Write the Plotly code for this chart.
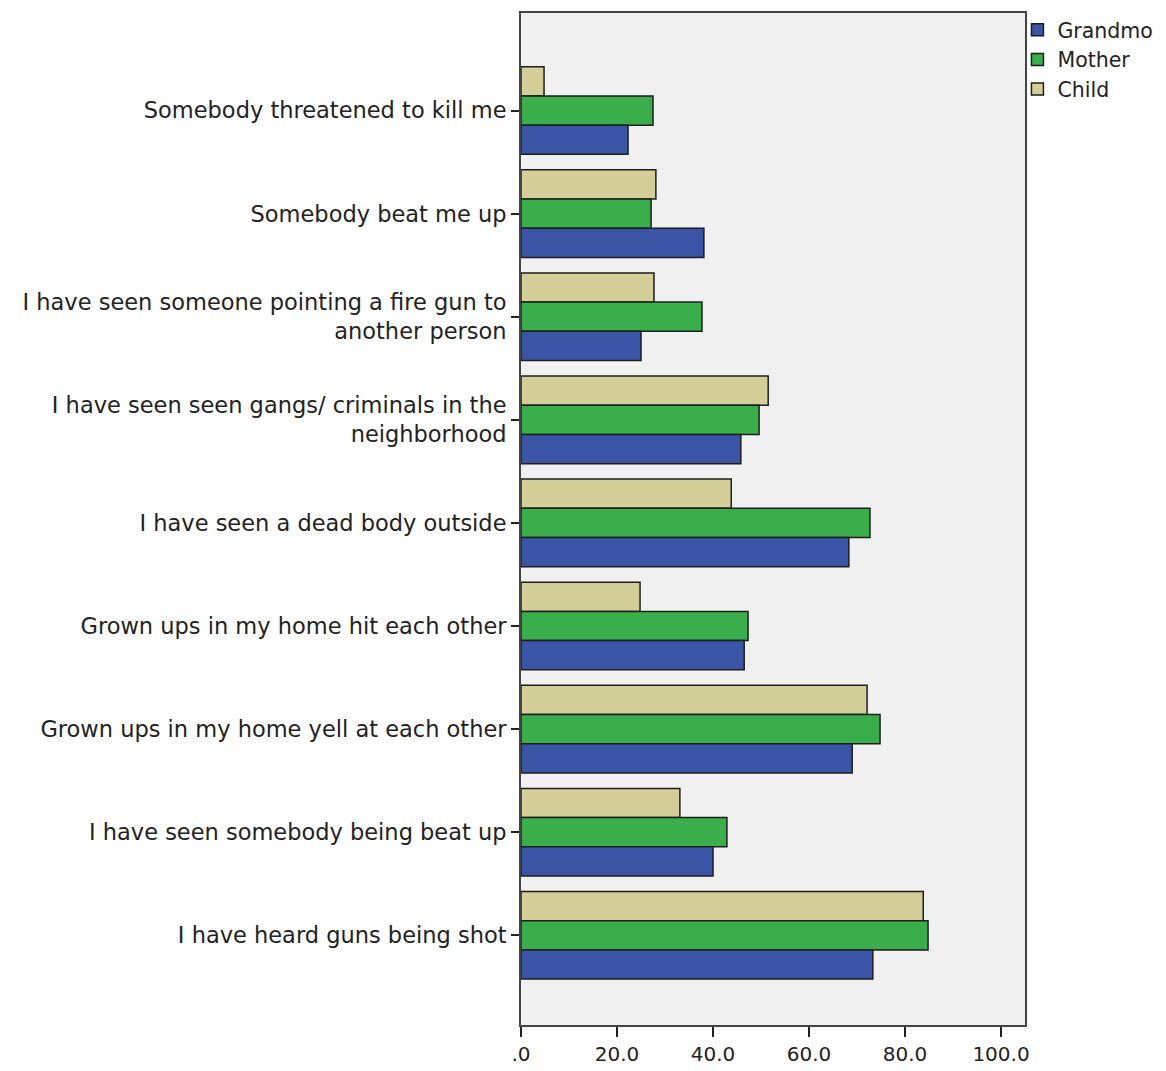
import plotly.graph_objects as go

categories = [
    "Somebody threatened to kill me",
    "Somebody beat me up",
    "I have seen someone pointing a fire gun to<br>another person",
    "I have seen seen gangs/ criminals in the<br>neighborhood",
    "I have seen a dead body outside",
    "Grown ups in my home hit each other",
    "Grown ups in my home yell at each other",
    "I have seen somebody being beat up",
    "I have heard guns being shot",
]
grandmother = [22.3, 38.1, 25.0, 45.8, 68.3, 46.5, 69.0, 40.0, 73.3]
mother = [27.5, 27.1, 37.7, 49.6, 72.7, 47.3, 74.8, 42.9, 84.8]
child = [4.8, 28.1, 27.7, 51.5, 43.8, 24.8, 72.1, 33.1, 83.8]
tick_vals = [0, 20, 40, 60, 80, 100]
tick_text = [".0", "20.0", "40.0", "60.0", "80.0", "100.0"]

series = [
    ("Child", child, "#d4cf98"),
    ("Mother", mother, "#3aae4a"),
    ("Grandmo", grandmother, "#3a55a5"),
]

fig = go.Figure()
for name, vals, color in series:
    fig.add_trace(go.Bar(
        y=categories, x=vals, name=name, orientation="h",
        marker=dict(color=color, line=dict(color="#1e1e1e", width=1.5)),
    ))

font_family = "DejaVu Sans, Liberation Sans, sans-serif"
fig.update_layout(
    width=1166, height=1071,
    margin=dict(l=513, r=149, t=2, b=54, pad=0),
    paper_bgcolor="white", plot_bgcolor="#f0f0f0",
    barmode="group", bargap=0.15, bargroupgap=0,
    font=dict(family=font_family, size=22, color="#222222"),
    legend=dict(x=0.985, y=1.003, xanchor="left", yanchor="top",
                traceorder="reversed", font=dict(size=20.5, color="#222222"),
                itemwidth=30, tracegroupgap=0, bgcolor="rgba(0,0,0,0)"),
    xaxis=dict(range=[0, 105], tickvals=tick_vals, ticktext=tick_text,
               showgrid=False, zeroline=False, ticks="outside", ticklen=10,
               tickwidth=2, tickcolor="#222222", showline=True, linecolor="#444444",
               linewidth=2, mirror=True, tickfont=dict(size=20)),
    yaxis=dict(type="category", categoryorder="array", categoryarray=categories,
               range=[8.87, -0.946], showgrid=False, zeroline=False,
               ticks="outside", ticklen=8, tickwidth=2, tickcolor="#222222",
               showline=True, linecolor="#444444", linewidth=2, mirror=True,
               tickfont=dict(size=22.5)),
)

fig.write_html("out.html")
